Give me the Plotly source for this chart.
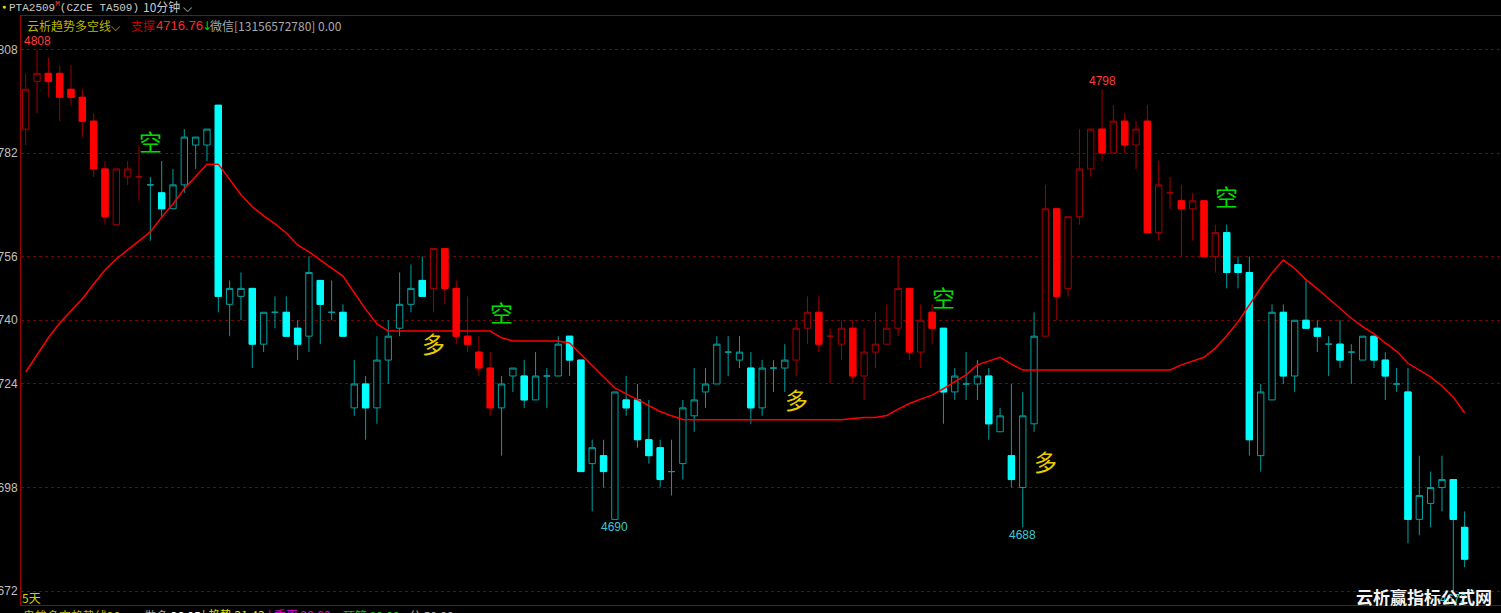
import plotly.graph_objects as go

# ---------------- data ----------------
open_ = [4788, 4800, 4802, 4802, 4798, 4796, 4790, 4778, 4764, 4776,
         4776, 4774, 4772, 4768, 4774, 4784, 4784, 4794, 4744, 4746,
         4748, 4734, 4742, 4742, 4738, 4736, 4750, 4742, 4742, 4718,
         4724, 4718, 4730, 4738, 4744, 4750, 4748, 4758, 4748, 4736,
         4732, 4728, 4718, 4726, 4726, 4720, 4726, 4726, 4736, 4730,
         4704, 4706, 4690, 4720, 4720, 4710, 4708, 4702, 4704, 4716,
         4722, 4724, 4732, 4730, 4728, 4718, 4728, 4728, 4730, 4738,
         4742, 4736, 4734, 4738, 4726, 4732, 4734, 4738, 4748, 4732,
         4742, 4738, 4722, 4724, 4724, 4726, 4712, 4706, 4698, 4714,
         4736, 4768, 4748, 4766, 4778, 4788, 4782, 4790, 4784, 4790,
         4762, 4772, 4770, 4768, 4770, 4756, 4762, 4754, 4752, 4706,
         4720, 4742, 4726, 4740, 4738, 4734, 4734, 4732, 4730, 4736,
         4730, 4724, 4722, 4690, 4694, 4698, 4700, 4688]
high = [4802, 4808, 4806, 4804, 4804, 4798, 4792, 4780, 4778, 4780,
        4784, 4776, 4780, 4778, 4788, 4786, 4788, 4794, 4750, 4752,
        4748, 4742, 4746, 4746, 4740, 4756, 4750, 4750, 4744, 4730,
        4726, 4736, 4740, 4752, 4754, 4756, 4758, 4758, 4750, 4746,
        4736, 4732, 4726, 4728, 4730, 4732, 4728, 4736, 4736, 4730,
        4710, 4710, 4722, 4726, 4724, 4720, 4710, 4710, 4720, 4728,
        4728, 4736, 4736, 4736, 4732, 4730, 4730, 4734, 4740, 4746,
        4746, 4738, 4740, 4740, 4738, 4742, 4744, 4756, 4748, 4744,
        4744, 4738, 4728, 4732, 4730, 4728, 4718, 4724, 4722, 4742,
        4774, 4768, 4766, 4788, 4788, 4798, 4794, 4792, 4790, 4794,
        4780, 4776, 4774, 4772, 4770, 4764, 4764, 4756, 4756, 4724,
        4744, 4744, 4740, 4750, 4740, 4736, 4740, 4734, 4736, 4736,
        4732, 4728, 4728, 4706, 4702, 4706, 4700, 4692]
low = [4784, 4792, 4796, 4790, 4794, 4786, 4776, 4764, 4764, 4774,
       4770, 4760, 4766, 4768, 4772, 4778, 4780, 4742, 4736, 4740,
       4728, 4732, 4738, 4736, 4730, 4732, 4734, 4740, 4736, 4716,
       4710, 4714, 4724, 4736, 4742, 4746, 4742, 4744, 4734, 4732,
       4726, 4716, 4706, 4722, 4718, 4720, 4718, 4726, 4726, 4702,
       4692, 4698, 4690, 4716, 4708, 4704, 4698, 4696, 4700, 4712,
       4718, 4724, 4726, 4728, 4714, 4716, 4722, 4722, 4726, 4734,
       4732, 4724, 4730, 4724, 4720, 4728, 4734, 4736, 4730, 4728,
       4734, 4714, 4720, 4720, 4720, 4710, 4712, 4698, 4688, 4712,
       4736, 4740, 4746, 4764, 4776, 4780, 4782, 4782, 4778, 4762,
       4760, 4768, 4756, 4760, 4756, 4752, 4748, 4748, 4706, 4702,
       4720, 4724, 4722, 4738, 4732, 4726, 4728, 4724, 4730, 4728,
       4720, 4722, 4684, 4686, 4688, 4692, 4672, 4678]
close = [4798, 4802, 4800, 4796, 4796, 4790, 4778, 4766, 4778, 4778,
         4776, 4774, 4768, 4774, 4786, 4786, 4788, 4746, 4748, 4748,
         4734, 4742, 4742, 4736, 4734, 4752, 4744, 4742, 4736, 4724,
         4718, 4730, 4736, 4744, 4748, 4746, 4758, 4748, 4736, 4734,
         4728, 4718, 4724, 4728, 4720, 4726, 4726, 4734, 4730, 4702,
         4708, 4702, 4722, 4718, 4710, 4706, 4700, 4702, 4718, 4720,
         4724, 4734, 4732, 4732, 4718, 4728, 4728, 4730, 4738, 4742,
         4734, 4736, 4738, 4726, 4732, 4734, 4738, 4748, 4732, 4740,
         4738, 4722, 4726, 4724, 4726, 4714, 4716, 4700, 4716, 4736,
         4768, 4746, 4766, 4778, 4788, 4782, 4790, 4784, 4788, 4762,
         4774, 4772, 4768, 4770, 4756, 4762, 4752, 4752, 4710, 4722,
         4742, 4726, 4740, 4738, 4736, 4734, 4730, 4732, 4736, 4730,
         4726, 4724, 4690, 4696, 4698, 4700, 4690, 4680]

# trend state per bar: R = red (long), C = cyan (short)
trend_state = ("RRRRRRRRRRR" + "CCCCCCCCCCCCCCCCCCCCCCCCC" + "RRRRRR" +
               "CCCCCCCCCCCCCCCCCCCCCCCCCC" + "RRRRRRRRRRRRR" + "CCCCCCCCC" +
               "RRRRRRRRRRRRRRRR" + "CCCCCCCCCCCCCCCCCCCCCC")

trend_line = [4727.0, 4731.3, 4735.6, 4739.3, 4742.3, 4745.4, 4749.1, 4752.6, 4755.4, 4757.7,
              4759.9, 4762.2, 4765.9, 4769.2, 4773.0, 4776.0, 4779.2, 4779.2, 4775.2, 4771.5,
              4768.5, 4766.2, 4764.2, 4761.9, 4758.9, 4757.2, 4755.1, 4753.1, 4751.1, 4746.9,
              4742.8, 4739.1, 4737.3, 4737.3, 4737.3, 4737.3, 4737.3, 4737.3, 4737.3, 4737.3,
              4737.3, 4737.3, 4735.6, 4734.8, 4734.8, 4734.8, 4734.8, 4734.8, 4734.3, 4731.5,
              4728.5, 4725.8, 4723.0, 4721.5, 4720.0, 4718.5, 4717.1, 4716.0, 4715.1, 4715.0,
              4715.0, 4715.0, 4715.0, 4715.0, 4715.0, 4715.0, 4715.0, 4715.0, 4715.0, 4715.0,
              4715.0, 4715.0, 4715.0, 4715.3, 4715.6, 4715.6, 4716.1, 4717.7, 4719.1, 4720.2,
              4721.2, 4722.8, 4724.5, 4726.3, 4728.8, 4729.8, 4730.7, 4729.0, 4727.5, 4727.5,
              4727.5, 4727.5, 4727.5, 4727.5, 4727.5, 4727.5, 4727.5, 4727.5, 4727.5, 4727.5,
              4727.5, 4727.5, 4728.8, 4729.8, 4730.7, 4733.0, 4736.1, 4739.6, 4743.8, 4748.1,
              4751.9, 4755.1, 4753.0, 4750.2, 4747.9, 4745.4, 4742.8, 4740.5, 4738.4, 4736.6,
              4734.3, 4732.2, 4729.2, 4727.4, 4725.8, 4723.5, 4720.7, 4716.76]

# signal labels
signal_idx = [11, 36, 42, 68, 81, 90, 106]
signal_text = ["空", "多", "空", "多", "空", "多", "空"]
signal_price = [4785.0, 4734.3, 4742.1, 4720.2, 4745.9, 4704.7, 4771.2]

# extreme labels
peak_idx = [1, 95]
trough_idx = [52, 88, 126]

# axis ticks
tick_vals = [4808, 4782, 4756, 4740, 4724, 4698, 4672]
tick_text = [str(v) for v in tick_vals]

# ---------------- figure ----------------
N = len(close)
xs = list(range(N))

RED_DIM, RED = "#a00000", "#ff0000"
CY_DIM, CY = "#00a0a0", "#00ffff"

fig = go.Figure()


def add_candles(mask, o, h, l, c, line_color, fill_color):
    def pick(vals):
        return [v if m else None for v, m in zip(vals, mask)]
    style = dict(line=dict(color=line_color, width=1), fillcolor=fill_color)
    fig.add_trace(go.Candlestick(
        x=xs, open=pick(o), high=pick(h), low=pick(l), close=pick(c),
        increasing=style, decreasing=style, whiskerwidth=0,
        hoverinfo="skip", showlegend=False))


body_hi = [max(o, c) for o, c in zip(open_, close)]
body_lo = [min(o, c) for o, c in zip(open_, close)]

for state, dim, bright in (("R", RED_DIM, RED), ("C", CY_DIM, CY)):
    in_state = [s == state for s in trend_state]
    up = [m and c > o for m, o, c in zip(in_state, open_, close)]
    down = [m and c < o for m, o, c in zip(in_state, open_, close)]
    doji = [m and c == o for m, o, c in zip(in_state, open_, close)]
    add_candles(up, open_, high, low, close, dim, "#000000")
    add_candles(doji, open_, high, low, close, dim, "#000000")
    add_candles(down, open_, high, low, close, dim, bright)
    # bright body overlay for filled candles
    add_candles(down, open_, body_hi, body_lo, close, bright, bright)

fig.add_trace(go.Scatter(x=xs, y=trend_line, mode="lines",
                         line=dict(color="#ff0000", width=1.5),
                         hoverinfo="skip", showlegend=False))

annotations = []

CJK = "Noto Sans CJK SC"

for i, t, p in zip(signal_idx, signal_text, signal_price):
    annotations.append(dict(x=i, y=p, xref="x", yref="y", text=t, showarrow=False,
                            font=dict(family=CJK, size=23,
                                      color="#00dd00" if t == "空" else "#e8cc00")))

for i in peak_idx:
    annotations.append(dict(x=i, y=high[i], xref="x", yref="y", text=str(high[i]),
                            showarrow=False, yanchor="bottom", yshift=-1,
                            font=dict(family="Liberation Sans", size=12, color="#ff3c3c")))
for i in trough_idx:
    annotations.append(dict(x=i, y=low[i], xref="x", yref="y", text=str(low[i]),
                            showarrow=False, yanchor="top", yshift=1,
                            font=dict(family="Liberation Sans", size=12, color="#3cc8d2")))


def px_x(px):
    return (px - 21) / 1480


def px_y(py):
    return (605 - py) / 589


def label(px, py, text, color, size=12, family="Liberation Sans", weight=None):
    f = dict(family=family, size=size, color=color)
    if weight:
        f["weight"] = weight
    annotations.append(dict(x=px_x(px), y=px_y(py), xref="paper", yref="paper",
                            text=text, showarrow=False, xanchor="left", yanchor="middle",
                            font=f))


# header row
label(0, 7, "●", "#e8d800", size=7)
label(7, 7, "PTA2509<sup><span style='color:#ff3030'>M</span></sup>(CZCE TA509)",
      "#c8c8c8", size=11, family="Liberation Mono")
label(141, 7, "10分钟 ⌵", "#c8c8c8", size=12, family=CJK)

# indicator row
label(25, 25, "云析趋势多空线⌵", "#b8b800", size=12, family=CJK)
label(129, 25, "支撑", "#c00000", size=12, family=CJK)
label(154, 25, f"{trend_line[-1]:.2f}", "#ff2828", size=13, family="Liberation Sans")
label(200, 26, "↓", "#00d000", size=12, family="DejaVu Sans")
label(208, 25, "微信[13156572780] 0.00", "#a8a8a8", size=12, family=CJK)

# bottom
label(20, 597, "5天", "#d0d000", size=12, family=CJK)
label(21, 615, "鬼雄多空趋势线20", "#b8b800", size=12, family=CJK)
label(142, 615, "做多 <span style='color:#ffffff'>26.05</span>", "#a8a8a8", size=12, family=CJK)
label(200, 615, "| 趋势 21.43", "#e0e000", size=12, family=CJK)
label(266, 615, "| 乖离 20.00", "#e000e0", size=12, family=CJK)
label(341, 615, "顶管 80.00", "#00d000", size=12, family=CJK)
label(407, 615, "分 50.00", "#a8a8a8", size=12, family=CJK)

# watermark
label(1354, 596, "云析赢指标公式网", "#f4f4f4", size=17, family=CJK, weight=700)

fig.update_layout(
    width=1501, height=613,
    margin=dict(l=21, r=0, t=16, b=8),
    paper_bgcolor="#000000", plot_bgcolor="#000000",
    template="none",
    showlegend=False,
    boxgap=0.2,
    annotations=annotations,
    xaxis=dict(range=[-0.415, 130.21], showgrid=False, zeroline=False,
               showticklabels=False, ticks="", showline=True, linecolor="#a00000",
               linewidth=1, mirror=True, rangeslider=dict(visible=False),
               automargin=False, fixedrange=True),
    yaxis=dict(range=[4668.5, 4816.4], tickvals=tick_vals, ticktext=tick_text,
               showgrid=True, gridcolor="#800000", gridwidth=1, griddash="dot",
               zeroline=False, ticks="", showline=True, linecolor="#a00000",
               linewidth=1, automargin=False, fixedrange=True,
               tickfont=dict(family="Liberation Sans", size=12, color="#c0c0c0")),
)

fig.write_html("out.html", config={"displayModeBar": False},
               post_script="document.body.style.margin='0';document.body.style.overflow='hidden';document.body.style.background='#000';")
